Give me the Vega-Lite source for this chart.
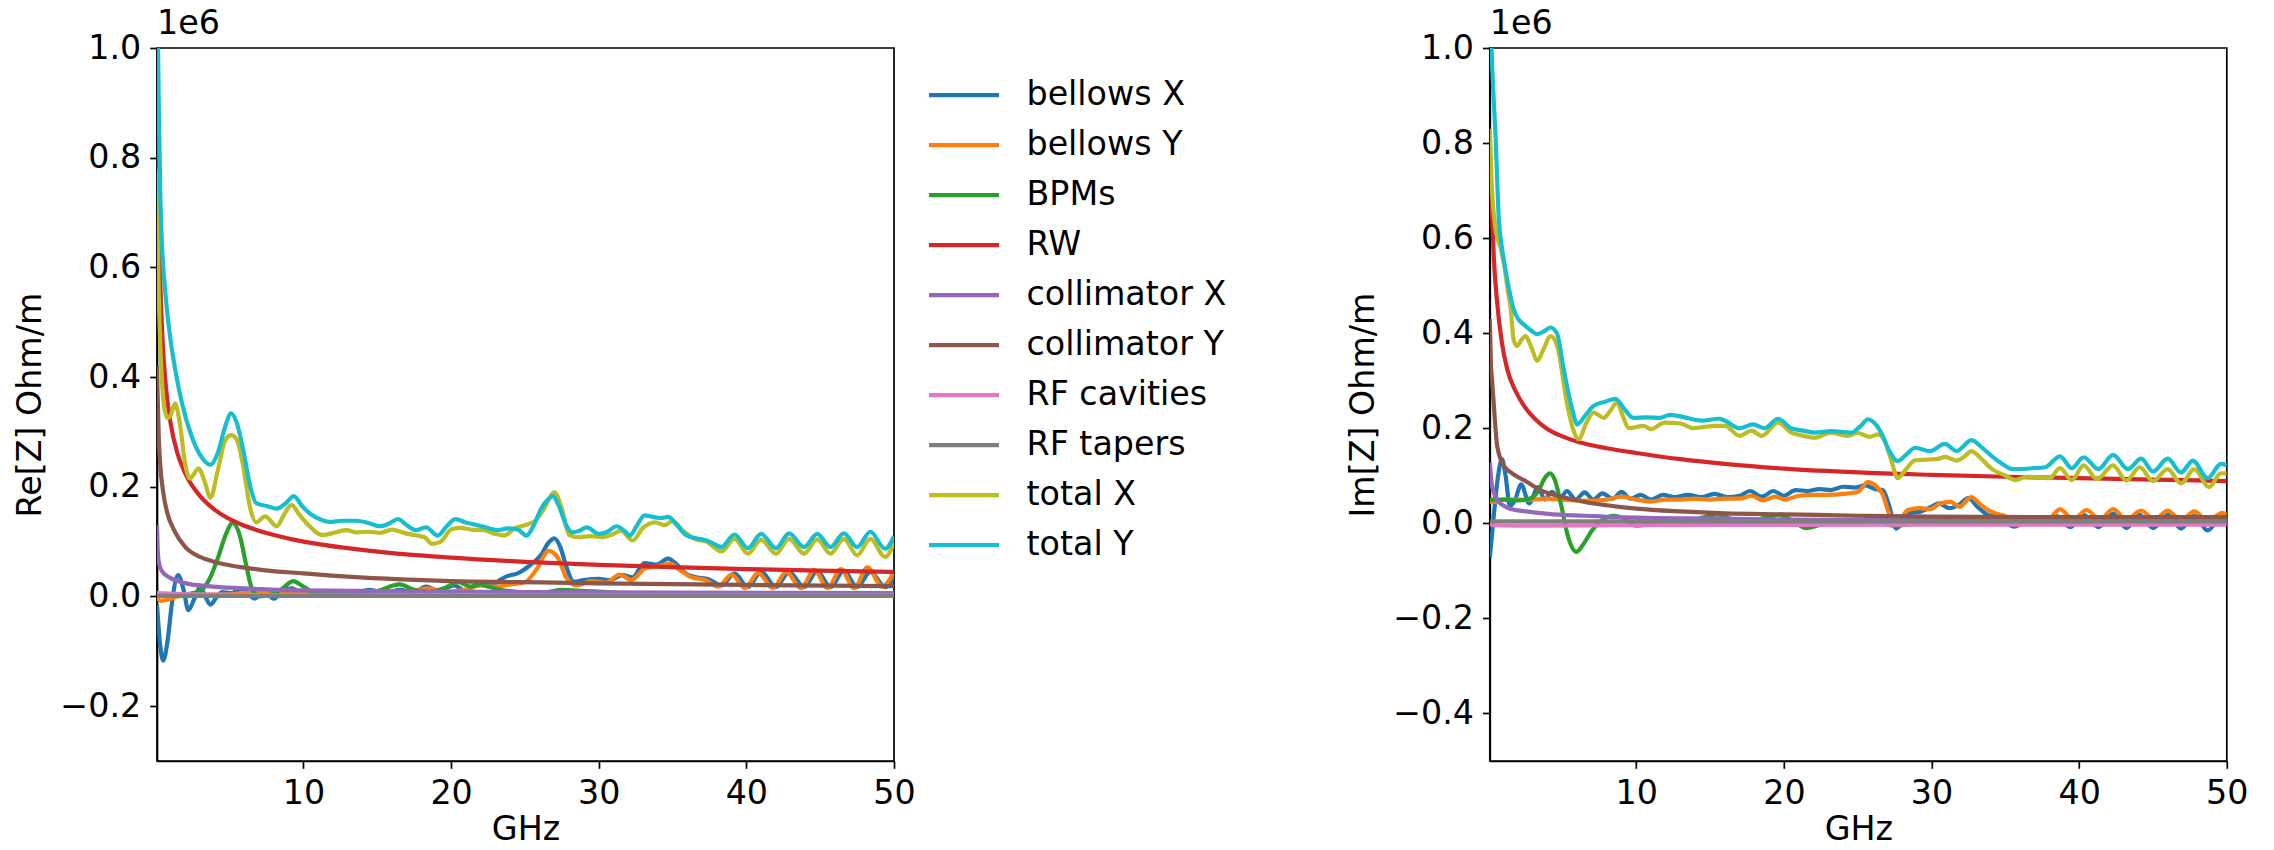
{
  "$schema": "https://vega.github.io/schema/vega-lite/v6.json",
  "background": "white",
  "padding": {"left": 12, "top": 5, "right": 5, "bottom": 5},
  "config": {
    "font": "DejaVu Sans",
    "view": {"stroke": "black", "strokeWidth": 1.7},
    "axis": {"grid": false, "domainColor": "black", "domainWidth": 1.7, "tickColor": "black", "tickWidth": 1.7, "tickSize": 7.3,
      "labelFontSize": 33.3, "labelColor": "black", "labelFont": "DejaVu Sans", "labelPadding": 9, "labelFlush": false, "labelOverlap": false,
      "titleFontSize": 33.3, "titleFontWeight": "normal", "titleColor": "black", "titleFont": "DejaVu Sans"},
    "axisX": {"titlePadding": 4},
    "axisY": {"titlePadding": 12.6},
    "title": {"fontSize": 33.3, "fontWeight": "normal", "font": "DejaVu Sans", "color": "black", "anchor": "start", "frame": "group", "baseline": "alphabetic", "offset": -10}
  },
  "data": {"values": [
    {"p":"Re","s":"bellows X","f":0.08,"z":-15000},{"p":"Re","s":"bellows X","f":0.3,"z":-90000},{"p":"Re","s":"bellows X","f":0.5,"z":-117000},{"p":"Re","s":"bellows X","f":0.8,"z":-80000},{"p":"Re","s":"bellows X","f":1.1,"z":-10000},{"p":"Re","s":"bellows X","f":1.5,"z":39000},{"p":"Re","s":"bellows X","f":1.9,"z":10000},{"p":"Re","s":"bellows X","f":2.2,"z":-25000},{"p":"Re","s":"bellows X","f":2.6,"z":-5000},{"p":"Re","s":"bellows X","f":3.0,"z":17000},{"p":"Re","s":"bellows X","f":3.35,"z":0},{"p":"Re","s":"bellows X","f":3.7,"z":-15000},{"p":"Re","s":"bellows X","f":4.1,"z":-2000},{"p":"Re","s":"bellows X","f":4.5,"z":8000},{"p":"Re","s":"bellows X","f":5.1,"z":6000},{"p":"Re","s":"bellows X","f":5.8,"z":14000},{"p":"Re","s":"bellows X","f":6.7,"z":-4000},{"p":"Re","s":"bellows X","f":7.3,"z":10000},{"p":"Re","s":"bellows X","f":8.0,"z":-4000},{"p":"Re","s":"bellows X","f":8.6,"z":10000},{"p":"Re","s":"bellows X","f":9.2,"z":15000},{"p":"Re","s":"bellows X","f":9.8,"z":8000},{"p":"Re","s":"bellows X","f":10.5,"z":10000},{"p":"Re","s":"bellows X","f":11.5,"z":6000},{"p":"Re","s":"bellows X","f":12.5,"z":10000},{"p":"Re","s":"bellows X","f":13.5,"z":7000},{"p":"Re","s":"bellows X","f":14.5,"z":12000},{"p":"Re","s":"bellows X","f":15.5,"z":6000},{"p":"Re","s":"bellows X","f":16.5,"z":12000},{"p":"Re","s":"bellows X","f":17.5,"z":8000},{"p":"Re","s":"bellows X","f":18.3,"z":18000},{"p":"Re","s":"bellows X","f":19.2,"z":10000},{"p":"Re","s":"bellows X","f":20.2,"z":20000},{"p":"Re","s":"bellows X","f":21,"z":10000},{"p":"Re","s":"bellows X","f":21.8,"z":22000},{"p":"Re","s":"bellows X","f":22.6,"z":18000},{"p":"Re","s":"bellows X","f":23.3,"z":30000},{"p":"Re","s":"bellows X","f":23.8,"z":37000},{"p":"Re","s":"bellows X","f":24.5,"z":42000},{"p":"Re","s":"bellows X","f":25.3,"z":56000},{"p":"Re","s":"bellows X","f":26.1,"z":76000},{"p":"Re","s":"bellows X","f":26.6,"z":98000},{"p":"Re","s":"bellows X","f":27.0,"z":106000},{"p":"Re","s":"bellows X","f":27.4,"z":90000},{"p":"Re","s":"bellows X","f":27.8,"z":55000},{"p":"Re","s":"bellows X","f":28.3,"z":27000},{"p":"Re","s":"bellows X","f":29,"z":30000},{"p":"Re","s":"bellows X","f":30,"z":32000},{"p":"Re","s":"bellows X","f":30.8,"z":30000},{"p":"Re","s":"bellows X","f":31.6,"z":39000},{"p":"Re","s":"bellows X","f":32.3,"z":35000},{"p":"Re","s":"bellows X","f":33.1,"z":61000},{"p":"Re","s":"bellows X","f":33.9,"z":58000},{"p":"Re","s":"bellows X","f":34.7,"z":69000},{"p":"Re","s":"bellows X","f":35.3,"z":58000},{"p":"Re","s":"bellows X","f":35.9,"z":42000},{"p":"Re","s":"bellows X","f":36.6,"z":35000},{"p":"Re","s":"bellows X","f":37.4,"z":32000},{"p":"Re","s":"bellows X","f":38.3,"z":20000},{"p":"Re","s":"bellows X","f":39.2,"z":42000},{"p":"Re","s":"bellows X","f":40.1,"z":17000},{"p":"Re","s":"bellows X","f":41.0,"z":45000},{"p":"Re","s":"bellows X","f":42.0,"z":17000},{"p":"Re","s":"bellows X","f":42.9,"z":45000},{"p":"Re","s":"bellows X","f":43.9,"z":17000},{"p":"Re","s":"bellows X","f":44.8,"z":46000},{"p":"Re","s":"bellows X","f":45.7,"z":17000},{"p":"Re","s":"bellows X","f":46.6,"z":47000},{"p":"Re","s":"bellows X","f":47.5,"z":17000},{"p":"Re","s":"bellows X","f":48.4,"z":45000},{"p":"Re","s":"bellows X","f":49.4,"z":17000},{"p":"Re","s":"bellows X","f":50,"z":35000},
    {"p":"Re","s":"bellows Y","f":0.08,"z":0},{"p":"Re","s":"bellows Y","f":0.3,"z":-8000},{"p":"Re","s":"bellows Y","f":0.8,"z":-6000},{"p":"Re","s":"bellows Y","f":1.5,"z":0},{"p":"Re","s":"bellows Y","f":3,"z":3000},{"p":"Re","s":"bellows Y","f":5,"z":4000},{"p":"Re","s":"bellows Y","f":7,"z":8000},{"p":"Re","s":"bellows Y","f":9,"z":6000},{"p":"Re","s":"bellows Y","f":12,"z":8000},{"p":"Re","s":"bellows Y","f":15,"z":9000},{"p":"Re","s":"bellows Y","f":17,"z":8000},{"p":"Re","s":"bellows Y","f":18.5,"z":15000},{"p":"Re","s":"bellows Y","f":19.5,"z":8000},{"p":"Re","s":"bellows Y","f":21,"z":12000},{"p":"Re","s":"bellows Y","f":22,"z":20000},{"p":"Re","s":"bellows Y","f":23,"z":18000},{"p":"Re","s":"bellows Y","f":24,"z":22000},{"p":"Re","s":"bellows Y","f":25,"z":26000},{"p":"Re","s":"bellows Y","f":25.8,"z":50000},{"p":"Re","s":"bellows Y","f":26.6,"z":83000},{"p":"Re","s":"bellows Y","f":27.2,"z":72000},{"p":"Re","s":"bellows Y","f":27.8,"z":35000},{"p":"Re","s":"bellows Y","f":28.5,"z":20000},{"p":"Re","s":"bellows Y","f":29.5,"z":28000},{"p":"Re","s":"bellows Y","f":30.5,"z":25000},{"p":"Re","s":"bellows Y","f":31.4,"z":40000},{"p":"Re","s":"bellows Y","f":32.2,"z":30000},{"p":"Re","s":"bellows Y","f":33.2,"z":52000},{"p":"Re","s":"bellows Y","f":34,"z":55000},{"p":"Re","s":"bellows Y","f":34.8,"z":60000},{"p":"Re","s":"bellows Y","f":35.5,"z":48000},{"p":"Re","s":"bellows Y","f":36.3,"z":35000},{"p":"Re","s":"bellows Y","f":37.2,"z":30000},{"p":"Re","s":"bellows Y","f":38.1,"z":18000},{"p":"Re","s":"bellows Y","f":39.0,"z":40000},{"p":"Re","s":"bellows Y","f":39.9,"z":15000},{"p":"Re","s":"bellows Y","f":40.8,"z":43000},{"p":"Re","s":"bellows Y","f":41.8,"z":15000},{"p":"Re","s":"bellows Y","f":42.7,"z":45000},{"p":"Re","s":"bellows Y","f":43.7,"z":15000},{"p":"Re","s":"bellows Y","f":44.6,"z":48000},{"p":"Re","s":"bellows Y","f":45.5,"z":15000},{"p":"Re","s":"bellows Y","f":46.4,"z":50000},{"p":"Re","s":"bellows Y","f":47.3,"z":15000},{"p":"Re","s":"bellows Y","f":48.2,"z":53000},{"p":"Re","s":"bellows Y","f":49.2,"z":18000},{"p":"Re","s":"bellows Y","f":50,"z":45000},
    {"p":"Re","s":"BPMs","f":0.08,"z":2000},{"p":"Re","s":"BPMs","f":1,"z":3000},{"p":"Re","s":"BPMs","f":2,"z":4000},{"p":"Re","s":"BPMs","f":3,"z":10000},{"p":"Re","s":"BPMs","f":3.6,"z":30000},{"p":"Re","s":"BPMs","f":4.2,"z":70000},{"p":"Re","s":"BPMs","f":4.7,"z":110000},{"p":"Re","s":"BPMs","f":5.2,"z":134000},{"p":"Re","s":"BPMs","f":5.7,"z":110000},{"p":"Re","s":"BPMs","f":6.1,"z":60000},{"p":"Re","s":"BPMs","f":6.5,"z":15000},{"p":"Re","s":"BPMs","f":7,"z":0},{"p":"Re","s":"BPMs","f":7.8,"z":3000},{"p":"Re","s":"BPMs","f":8.6,"z":15000},{"p":"Re","s":"BPMs","f":9.3,"z":28000},{"p":"Re","s":"BPMs","f":10,"z":18000},{"p":"Re","s":"BPMs","f":10.8,"z":6000},{"p":"Re","s":"BPMs","f":12,"z":4000},{"p":"Re","s":"BPMs","f":13.5,"z":6000},{"p":"Re","s":"BPMs","f":15,"z":10000},{"p":"Re","s":"BPMs","f":16.5,"z":22000},{"p":"Re","s":"BPMs","f":17.5,"z":12000},{"p":"Re","s":"BPMs","f":18.5,"z":8000},{"p":"Re","s":"BPMs","f":19.5,"z":15000},{"p":"Re","s":"BPMs","f":20.5,"z":26000},{"p":"Re","s":"BPMs","f":21.3,"z":18000},{"p":"Re","s":"BPMs","f":22,"z":22000},{"p":"Re","s":"BPMs","f":23,"z":14000},{"p":"Re","s":"BPMs","f":24.5,"z":8000},{"p":"Re","s":"BPMs","f":26,"z":6000},{"p":"Re","s":"BPMs","f":27.5,"z":12000},{"p":"Re","s":"BPMs","f":29,"z":10000},{"p":"Re","s":"BPMs","f":30.5,"z":8000},{"p":"Re","s":"BPMs","f":33,"z":4000},{"p":"Re","s":"BPMs","f":36,"z":3000},{"p":"Re","s":"BPMs","f":40,"z":2000},{"p":"Re","s":"BPMs","f":50,"z":2000},
    {"p":"Re","s":"RW","f":0.08,"z":1120000},{"p":"Re","s":"RW","f":0.12,"z":910000},{"p":"Re","s":"RW","f":0.2,"z":707000},{"p":"Re","s":"RW","f":0.3,"z":577000},{"p":"Re","s":"RW","f":0.45,"z":471000},{"p":"Re","s":"RW","f":0.7,"z":378000},{"p":"Re","s":"RW","f":1,"z":316000},{"p":"Re","s":"RW","f":1.5,"z":258000},{"p":"Re","s":"RW","f":2,"z":224000},{"p":"Re","s":"RW","f":3,"z":183000},{"p":"Re","s":"RW","f":4,"z":158000},{"p":"Re","s":"RW","f":5,"z":141000},{"p":"Re","s":"RW","f":6,"z":129000},{"p":"Re","s":"RW","f":8,"z":112000},{"p":"Re","s":"RW","f":10,"z":100000},{"p":"Re","s":"RW","f":13,"z":88000},{"p":"Re","s":"RW","f":16,"z":79000},{"p":"Re","s":"RW","f":20,"z":70700},{"p":"Re","s":"RW","f":25,"z":63200},{"p":"Re","s":"RW","f":30,"z":57700},{"p":"Re","s":"RW","f":35,"z":53400},{"p":"Re","s":"RW","f":40,"z":50000},{"p":"Re","s":"RW","f":45,"z":47100},{"p":"Re","s":"RW","f":50,"z":44700},
    {"p":"Re","s":"collimator X","f":0.08,"z":130000},{"p":"Re","s":"collimator X","f":0.12,"z":90000},{"p":"Re","s":"collimator X","f":0.2,"z":63000},{"p":"Re","s":"collimator X","f":0.4,"z":47000},{"p":"Re","s":"collimator X","f":0.84,"z":36000},{"p":"Re","s":"collimator X","f":1.5,"z":28000},{"p":"Re","s":"collimator X","f":2.2,"z":23000},{"p":"Re","s":"collimator X","f":3.5,"z":19000},{"p":"Re","s":"collimator X","f":5.3,"z":15500},{"p":"Re","s":"collimator X","f":7.5,"z":13000},{"p":"Re","s":"collimator X","f":10,"z":11000},{"p":"Re","s":"collimator X","f":16,"z":9500},{"p":"Re","s":"collimator X","f":25,"z":8000},{"p":"Re","s":"collimator X","f":35,"z":7000},{"p":"Re","s":"collimator X","f":50,"z":6000},
    {"p":"Re","s":"collimator Y","f":0.08,"z":420000},{"p":"Re","s":"collimator Y","f":0.12,"z":370000},{"p":"Re","s":"collimator Y","f":0.2,"z":290000},{"p":"Re","s":"collimator Y","f":0.3,"z":240000},{"p":"Re","s":"collimator Y","f":0.5,"z":190000},{"p":"Re","s":"collimator Y","f":0.8,"z":150000},{"p":"Re","s":"collimator Y","f":1.2,"z":123000},{"p":"Re","s":"collimator Y","f":2,"z":90000},{"p":"Re","s":"collimator Y","f":3,"z":72000},{"p":"Re","s":"collimator Y","f":4,"z":63000},{"p":"Re","s":"collimator Y","f":5,"z":57000},{"p":"Re","s":"collimator Y","f":7,"z":49000},{"p":"Re","s":"collimator Y","f":10,"z":42000},{"p":"Re","s":"collimator Y","f":13,"z":36000},{"p":"Re","s":"collimator Y","f":16.6,"z":31000},{"p":"Re","s":"collimator Y","f":20,"z":28000},{"p":"Re","s":"collimator Y","f":25,"z":26000},{"p":"Re","s":"collimator Y","f":30,"z":24000},{"p":"Re","s":"collimator Y","f":40,"z":21000},{"p":"Re","s":"collimator Y","f":50,"z":19000},
    {"p":"Re","s":"RF cavities","f":0.08,"z":6000},{"p":"Re","s":"RF cavities","f":1,"z":5000},{"p":"Re","s":"RF cavities","f":5,"z":3000},{"p":"Re","s":"RF cavities","f":10,"z":2000},{"p":"Re","s":"RF cavities","f":50,"z":2000},
    {"p":"Re","s":"RF tapers","f":0.08,"z":1000},{"p":"Re","s":"RF tapers","f":50,"z":1000},
    {"p":"Re","s":"total X","f":0.08,"z":780000},{"p":"Re","s":"total X","f":0.15,"z":620000},{"p":"Re","s":"total X","f":0.25,"z":500000},{"p":"Re","s":"total X","f":0.4,"z":400000},{"p":"Re","s":"total X","f":0.6,"z":340000},{"p":"Re","s":"total X","f":0.8,"z":325000},{"p":"Re","s":"total X","f":1.0,"z":330000},{"p":"Re","s":"total X","f":1.3,"z":352000},{"p":"Re","s":"total X","f":1.6,"z":320000},{"p":"Re","s":"total X","f":2.0,"z":240000},{"p":"Re","s":"total X","f":2.3,"z":215000},{"p":"Re","s":"total X","f":2.9,"z":233000},{"p":"Re","s":"total X","f":3.3,"z":210000},{"p":"Re","s":"total X","f":3.7,"z":180000},{"p":"Re","s":"total X","f":4.2,"z":230000},{"p":"Re","s":"total X","f":4.7,"z":285000},{"p":"Re","s":"total X","f":5.1,"z":294000},{"p":"Re","s":"total X","f":5.5,"z":285000},{"p":"Re","s":"total X","f":5.9,"z":240000},{"p":"Re","s":"total X","f":6.4,"z":160000},{"p":"Re","s":"total X","f":6.8,"z":135000},{"p":"Re","s":"total X","f":7.4,"z":146000},{"p":"Re","s":"total X","f":8.2,"z":128000},{"p":"Re","s":"total X","f":8.7,"z":150000},{"p":"Re","s":"total X","f":9.2,"z":167000},{"p":"Re","s":"total X","f":9.7,"z":150000},{"p":"Re","s":"total X","f":10.2,"z":134000},{"p":"Re","s":"total X","f":11.3,"z":112000},{"p":"Re","s":"total X","f":12.2,"z":117000},{"p":"Re","s":"total X","f":12.9,"z":121000},{"p":"Re","s":"total X","f":13.6,"z":117000},{"p":"Re","s":"total X","f":14.4,"z":118000},{"p":"Re","s":"total X","f":15.2,"z":116000},{"p":"Re","s":"total X","f":16,"z":122000},{"p":"Re","s":"total X","f":16.8,"z":116000},{"p":"Re","s":"total X","f":17.5,"z":112000},{"p":"Re","s":"total X","f":18.2,"z":108000},{"p":"Re","s":"total X","f":18.7,"z":96000},{"p":"Re","s":"total X","f":19.3,"z":100000},{"p":"Re","s":"total X","f":20.0,"z":122000},{"p":"Re","s":"total X","f":20.6,"z":125000},{"p":"Re","s":"total X","f":21.4,"z":122000},{"p":"Re","s":"total X","f":22.2,"z":121000},{"p":"Re","s":"total X","f":23.0,"z":114000},{"p":"Re","s":"total X","f":23.6,"z":111000},{"p":"Re","s":"total X","f":24.3,"z":124000},{"p":"Re","s":"total X","f":25.0,"z":130000},{"p":"Re","s":"total X","f":25.7,"z":138000},{"p":"Re","s":"total X","f":26.3,"z":160000},{"p":"Re","s":"total X","f":27.0,"z":190000},{"p":"Re","s":"total X","f":27.5,"z":160000},{"p":"Re","s":"total X","f":28.0,"z":112000},{"p":"Re","s":"total X","f":28.6,"z":108000},{"p":"Re","s":"total X","f":29.5,"z":110000},{"p":"Re","s":"total X","f":30.3,"z":108000},{"p":"Re","s":"total X","f":31.0,"z":114000},{"p":"Re","s":"total X","f":31.5,"z":120000},{"p":"Re","s":"total X","f":32.3,"z":102000},{"p":"Re","s":"total X","f":33.0,"z":125000},{"p":"Re","s":"total X","f":33.8,"z":135000},{"p":"Re","s":"total X","f":34.5,"z":130000},{"p":"Re","s":"total X","f":35.0,"z":138000},{"p":"Re","s":"total X","f":35.7,"z":120000},{"p":"Re","s":"total X","f":36.5,"z":105000},{"p":"Re","s":"total X","f":37.3,"z":100000},{"p":"Re","s":"total X","f":38.3,"z":82000},{"p":"Re","s":"total X","f":39.2,"z":105000},{"p":"Re","s":"total X","f":40.1,"z":78000},{"p":"Re","s":"total X","f":41.0,"z":103000},{"p":"Re","s":"total X","f":42.0,"z":78000},{"p":"Re","s":"total X","f":42.9,"z":105000},{"p":"Re","s":"total X","f":43.9,"z":78000},{"p":"Re","s":"total X","f":44.8,"z":104000},{"p":"Re","s":"total X","f":45.7,"z":78000},{"p":"Re","s":"total X","f":46.6,"z":105000},{"p":"Re","s":"total X","f":47.5,"z":75000},{"p":"Re","s":"total X","f":48.4,"z":105000},{"p":"Re","s":"total X","f":49.4,"z":72000},{"p":"Re","s":"total X","f":50,"z":98000},
    {"p":"Re","s":"total Y","f":0.08,"z":1300000},{"p":"Re","s":"total Y","f":0.15,"z":1000000},{"p":"Re","s":"total Y","f":0.22,"z":860000},{"p":"Re","s":"total Y","f":0.3,"z":740000},{"p":"Re","s":"total Y","f":0.4,"z":650000},{"p":"Re","s":"total Y","f":0.6,"z":568000},{"p":"Re","s":"total Y","f":0.95,"z":477000},{"p":"Re","s":"total Y","f":1.3,"z":416000},{"p":"Re","s":"total Y","f":1.75,"z":355000},{"p":"Re","s":"total Y","f":2.4,"z":294000},{"p":"Re","s":"total Y","f":3.0,"z":258000},{"p":"Re","s":"total Y","f":3.7,"z":240000},{"p":"Re","s":"total Y","f":4.2,"z":262000},{"p":"Re","s":"total Y","f":4.7,"z":310000},{"p":"Re","s":"total Y","f":5.1,"z":334000},{"p":"Re","s":"total Y","f":5.5,"z":315000},{"p":"Re","s":"total Y","f":5.9,"z":270000},{"p":"Re","s":"total Y","f":6.4,"z":200000},{"p":"Re","s":"total Y","f":6.8,"z":170000},{"p":"Re","s":"total Y","f":7.5,"z":165000},{"p":"Re","s":"total Y","f":8.2,"z":160000},{"p":"Re","s":"total Y","f":8.8,"z":170000},{"p":"Re","s":"total Y","f":9.35,"z":183000},{"p":"Re","s":"total Y","f":9.9,"z":165000},{"p":"Re","s":"total Y","f":10.5,"z":150000},{"p":"Re","s":"total Y","f":11.2,"z":140000},{"p":"Re","s":"total Y","f":11.8,"z":136000},{"p":"Re","s":"total Y","f":12.6,"z":138000},{"p":"Re","s":"total Y","f":13.6,"z":138000},{"p":"Re","s":"total Y","f":14.4,"z":134000},{"p":"Re","s":"total Y","f":15.2,"z":128000},{"p":"Re","s":"total Y","f":15.8,"z":133000},{"p":"Re","s":"total Y","f":16.4,"z":141000},{"p":"Re","s":"total Y","f":17.0,"z":130000},{"p":"Re","s":"total Y","f":17.6,"z":121000},{"p":"Re","s":"total Y","f":18.3,"z":126000},{"p":"Re","s":"total Y","f":19.1,"z":111000},{"p":"Re","s":"total Y","f":19.7,"z":128000},{"p":"Re","s":"total Y","f":20.3,"z":141000},{"p":"Re","s":"total Y","f":21.0,"z":135000},{"p":"Re","s":"total Y","f":21.8,"z":130000},{"p":"Re","s":"total Y","f":22.6,"z":124000},{"p":"Re","s":"total Y","f":23.2,"z":121000},{"p":"Re","s":"total Y","f":23.8,"z":124000},{"p":"Re","s":"total Y","f":24.5,"z":122000},{"p":"Re","s":"total Y","f":25.1,"z":111000},{"p":"Re","s":"total Y","f":25.6,"z":130000},{"p":"Re","s":"total Y","f":26.1,"z":160000},{"p":"Re","s":"total Y","f":26.6,"z":178000},{"p":"Re","s":"total Y","f":26.9,"z":183000},{"p":"Re","s":"total Y","f":27.3,"z":165000},{"p":"Re","s":"total Y","f":27.8,"z":130000},{"p":"Re","s":"total Y","f":28.2,"z":117000},{"p":"Re","s":"total Y","f":28.7,"z":120000},{"p":"Re","s":"total Y","f":29.2,"z":126000},{"p":"Re","s":"total Y","f":30.0,"z":114000},{"p":"Re","s":"total Y","f":30.6,"z":118000},{"p":"Re","s":"total Y","f":31.2,"z":128000},{"p":"Re","s":"total Y","f":31.8,"z":118000},{"p":"Re","s":"total Y","f":32.1,"z":111000},{"p":"Re","s":"total Y","f":32.6,"z":130000},{"p":"Re","s":"total Y","f":33.1,"z":148000},{"p":"Re","s":"total Y","f":33.7,"z":145000},{"p":"Re","s":"total Y","f":34.2,"z":143000},{"p":"Re","s":"total Y","f":34.7,"z":145000},{"p":"Re","s":"total Y","f":35.3,"z":130000},{"p":"Re","s":"total Y","f":35.9,"z":112000},{"p":"Re","s":"total Y","f":36.6,"z":106000},{"p":"Re","s":"total Y","f":37.3,"z":102000},{"p":"Re","s":"total Y","f":37.8,"z":96000},{"p":"Re","s":"total Y","f":38.3,"z":90000},{"p":"Re","s":"total Y","f":39.2,"z":113000},{"p":"Re","s":"total Y","f":40.1,"z":88000},{"p":"Re","s":"total Y","f":41.0,"z":114000},{"p":"Re","s":"total Y","f":42.0,"z":88000},{"p":"Re","s":"total Y","f":42.9,"z":115000},{"p":"Re","s":"total Y","f":43.9,"z":90000},{"p":"Re","s":"total Y","f":44.8,"z":114000},{"p":"Re","s":"total Y","f":45.7,"z":90000},{"p":"Re","s":"total Y","f":46.6,"z":115000},{"p":"Re","s":"total Y","f":47.5,"z":90000},{"p":"Re","s":"total Y","f":48.4,"z":118000},{"p":"Re","s":"total Y","f":49.4,"z":87000},{"p":"Re","s":"total Y","f":50,"z":110000},
    {"p":"Im","s":"bellows X","f":0.08,"z":-72000},{"p":"Im","s":"bellows X","f":0.3,"z":0},{"p":"Im","s":"bellows X","f":0.6,"z":90000},{"p":"Im","s":"bellows X","f":0.9,"z":135000},{"p":"Im","s":"bellows X","f":1.15,"z":100000},{"p":"Im","s":"bellows X","f":1.44,"z":36000},{"p":"Im","s":"bellows X","f":1.8,"z":50000},{"p":"Im","s":"bellows X","f":2.2,"z":82000},{"p":"Im","s":"bellows X","f":2.75,"z":42000},{"p":"Im","s":"bellows X","f":3.35,"z":76000},{"p":"Im","s":"bellows X","f":3.8,"z":50000},{"p":"Im","s":"bellows X","f":4.3,"z":66000},{"p":"Im","s":"bellows X","f":4.8,"z":50000},{"p":"Im","s":"bellows X","f":5.3,"z":68000},{"p":"Im","s":"bellows X","f":5.9,"z":50000},{"p":"Im","s":"bellows X","f":6.5,"z":65000},{"p":"Im","s":"bellows X","f":7.1,"z":50000},{"p":"Im","s":"bellows X","f":7.7,"z":63000},{"p":"Im","s":"bellows X","f":8.4,"z":52000},{"p":"Im","s":"bellows X","f":9.0,"z":66000},{"p":"Im","s":"bellows X","f":9.6,"z":52000},{"p":"Im","s":"bellows X","f":10.3,"z":60000},{"p":"Im","s":"bellows X","f":11.0,"z":50000},{"p":"Im","s":"bellows X","f":11.8,"z":60000},{"p":"Im","s":"bellows X","f":12.6,"z":55000},{"p":"Im","s":"bellows X","f":13.5,"z":60000},{"p":"Im","s":"bellows X","f":14.4,"z":55000},{"p":"Im","s":"bellows X","f":15.3,"z":62000},{"p":"Im","s":"bellows X","f":16.2,"z":55000},{"p":"Im","s":"bellows X","f":17.0,"z":58000},{"p":"Im","s":"bellows X","f":17.7,"z":68000},{"p":"Im","s":"bellows X","f":18.5,"z":56000},{"p":"Im","s":"bellows X","f":19.3,"z":68000},{"p":"Im","s":"bellows X","f":20.0,"z":58000},{"p":"Im","s":"bellows X","f":20.8,"z":70000},{"p":"Im","s":"bellows X","f":21.6,"z":68000},{"p":"Im","s":"bellows X","f":22.4,"z":72000},{"p":"Im","s":"bellows X","f":23.2,"z":70000},{"p":"Im","s":"bellows X","f":24.0,"z":77000},{"p":"Im","s":"bellows X","f":24.8,"z":75000},{"p":"Im","s":"bellows X","f":25.5,"z":80000},{"p":"Im","s":"bellows X","f":26.2,"z":72000},{"p":"Im","s":"bellows X","f":26.7,"z":70000},{"p":"Im","s":"bellows X","f":27.1,"z":40000},{"p":"Im","s":"bellows X","f":27.6,"z":-11000},{"p":"Im","s":"bellows X","f":28.1,"z":5000},{"p":"Im","s":"bellows X","f":28.6,"z":22000},{"p":"Im","s":"bellows X","f":29.3,"z":25000},{"p":"Im","s":"bellows X","f":30.0,"z":35000},{"p":"Im","s":"bellows X","f":30.5,"z":42000},{"p":"Im","s":"bellows X","f":31.2,"z":32000},{"p":"Im","s":"bellows X","f":31.8,"z":38000},{"p":"Im","s":"bellows X","f":32.5,"z":53000},{"p":"Im","s":"bellows X","f":33.1,"z":35000},{"p":"Im","s":"bellows X","f":33.8,"z":18000},{"p":"Im","s":"bellows X","f":34.6,"z":12000},{"p":"Im","s":"bellows X","f":35.1,"z":0},{"p":"Im","s":"bellows X","f":35.6,"z":-7000},{"p":"Im","s":"bellows X","f":36.2,"z":0},{"p":"Im","s":"bellows X","f":37.0,"z":3000},{"p":"Im","s":"bellows X","f":37.7,"z":5000},{"p":"Im","s":"bellows X","f":38.5,"z":15000},{"p":"Im","s":"bellows X","f":39.4,"z":-8000},{"p":"Im","s":"bellows X","f":40.3,"z":18000},{"p":"Im","s":"bellows X","f":41.3,"z":-8000},{"p":"Im","s":"bellows X","f":42.3,"z":20000},{"p":"Im","s":"bellows X","f":43.2,"z":-10000},{"p":"Im","s":"bellows X","f":44.1,"z":18000},{"p":"Im","s":"bellows X","f":45.0,"z":-10000},{"p":"Im","s":"bellows X","f":46.0,"z":18000},{"p":"Im","s":"bellows X","f":46.9,"z":-11000},{"p":"Im","s":"bellows X","f":47.8,"z":16000},{"p":"Im","s":"bellows X","f":48.7,"z":-15000},{"p":"Im","s":"bellows X","f":49.6,"z":12000},{"p":"Im","s":"bellows X","f":50,"z":10000},
    {"p":"Im","s":"bellows Y","f":0.08,"z":45000},{"p":"Im","s":"bellows Y","f":0.5,"z":45000},{"p":"Im","s":"bellows Y","f":1.0,"z":50000},{"p":"Im","s":"bellows Y","f":2,"z":50000},{"p":"Im","s":"bellows Y","f":3,"z":50000},{"p":"Im","s":"bellows Y","f":4,"z":52000},{"p":"Im","s":"bellows Y","f":5,"z":50000},{"p":"Im","s":"bellows Y","f":6,"z":48000},{"p":"Im","s":"bellows Y","f":7,"z":48000},{"p":"Im","s":"bellows Y","f":8,"z":50000},{"p":"Im","s":"bellows Y","f":9,"z":56000},{"p":"Im","s":"bellows Y","f":10,"z":50000},{"p":"Im","s":"bellows Y","f":11,"z":46000},{"p":"Im","s":"bellows Y","f":12,"z":50000},{"p":"Im","s":"bellows Y","f":13,"z":50000},{"p":"Im","s":"bellows Y","f":14,"z":52000},{"p":"Im","s":"bellows Y","f":15,"z":50000},{"p":"Im","s":"bellows Y","f":16,"z":52000},{"p":"Im","s":"bellows Y","f":17,"z":52000},{"p":"Im","s":"bellows Y","f":17.8,"z":58000},{"p":"Im","s":"bellows Y","f":18.6,"z":48000},{"p":"Im","s":"bellows Y","f":19.4,"z":56000},{"p":"Im","s":"bellows Y","f":20.1,"z":50000},{"p":"Im","s":"bellows Y","f":21,"z":58000},{"p":"Im","s":"bellows Y","f":22,"z":60000},{"p":"Im","s":"bellows Y","f":23,"z":60000},{"p":"Im","s":"bellows Y","f":24,"z":62000},{"p":"Im","s":"bellows Y","f":25,"z":66000},{"p":"Im","s":"bellows Y","f":25.7,"z":87000},{"p":"Im","s":"bellows Y","f":26.2,"z":80000},{"p":"Im","s":"bellows Y","f":26.7,"z":60000},{"p":"Im","s":"bellows Y","f":27.2,"z":15000},{"p":"Im","s":"bellows Y","f":27.7,"z":3000},{"p":"Im","s":"bellows Y","f":28.4,"z":28000},{"p":"Im","s":"bellows Y","f":29.2,"z":32000},{"p":"Im","s":"bellows Y","f":29.9,"z":30000},{"p":"Im","s":"bellows Y","f":30.6,"z":42000},{"p":"Im","s":"bellows Y","f":31.3,"z":45000},{"p":"Im","s":"bellows Y","f":31.9,"z":35000},{"p":"Im","s":"bellows Y","f":32.7,"z":55000},{"p":"Im","s":"bellows Y","f":33.3,"z":40000},{"p":"Im","s":"bellows Y","f":34.0,"z":25000},{"p":"Im","s":"bellows Y","f":35.0,"z":15000},{"p":"Im","s":"bellows Y","f":36.0,"z":7000},{"p":"Im","s":"bellows Y","f":37.0,"z":5000},{"p":"Im","s":"bellows Y","f":38.0,"z":10000},{"p":"Im","s":"bellows Y","f":38.7,"z":30000},{"p":"Im","s":"bellows Y","f":39.6,"z":8000},{"p":"Im","s":"bellows Y","f":40.5,"z":28000},{"p":"Im","s":"bellows Y","f":41.4,"z":8000},{"p":"Im","s":"bellows Y","f":42.3,"z":30000},{"p":"Im","s":"bellows Y","f":43.2,"z":8000},{"p":"Im","s":"bellows Y","f":44.2,"z":27000},{"p":"Im","s":"bellows Y","f":45.1,"z":8000},{"p":"Im","s":"bellows Y","f":46.0,"z":27000},{"p":"Im","s":"bellows Y","f":46.9,"z":6000},{"p":"Im","s":"bellows Y","f":47.8,"z":25000},{"p":"Im","s":"bellows Y","f":48.7,"z":5000},{"p":"Im","s":"bellows Y","f":49.7,"z":22000},{"p":"Im","s":"bellows Y","f":50,"z":18000},
    {"p":"Im","s":"BPMs","f":0.08,"z":50000},{"p":"Im","s":"BPMs","f":1,"z":50000},{"p":"Im","s":"BPMs","f":2,"z":48000},{"p":"Im","s":"BPMs","f":2.8,"z":52000},{"p":"Im","s":"BPMs","f":3.4,"z":70000},{"p":"Im","s":"BPMs","f":3.8,"z":95000},{"p":"Im","s":"BPMs","f":4.15,"z":105000},{"p":"Im","s":"BPMs","f":4.5,"z":90000},{"p":"Im","s":"BPMs","f":4.9,"z":40000},{"p":"Im","s":"BPMs","f":5.4,"z":-30000},{"p":"Im","s":"BPMs","f":5.95,"z":-60000},{"p":"Im","s":"BPMs","f":6.5,"z":-40000},{"p":"Im","s":"BPMs","f":7.0,"z":-15000},{"p":"Im","s":"BPMs","f":7.6,"z":5000},{"p":"Im","s":"BPMs","f":8.5,"z":16000},{"p":"Im","s":"BPMs","f":9.3,"z":8000},{"p":"Im","s":"BPMs","f":10.0,"z":-5000},{"p":"Im","s":"BPMs","f":10.8,"z":-2000},{"p":"Im","s":"BPMs","f":12,"z":5000},{"p":"Im","s":"BPMs","f":13.5,"z":5000},{"p":"Im","s":"BPMs","f":14.5,"z":12000},{"p":"Im","s":"BPMs","f":15.5,"z":19000},{"p":"Im","s":"BPMs","f":16.5,"z":8000},{"p":"Im","s":"BPMs","f":17.2,"z":0},{"p":"Im","s":"BPMs","f":18.5,"z":10000},{"p":"Im","s":"BPMs","f":19.7,"z":18000},{"p":"Im","s":"BPMs","f":20.6,"z":5000},{"p":"Im","s":"BPMs","f":21.5,"z":-10000},{"p":"Im","s":"BPMs","f":22.5,"z":-3000},{"p":"Im","s":"BPMs","f":23.5,"z":3000},{"p":"Im","s":"BPMs","f":25,"z":2000},{"p":"Im","s":"BPMs","f":26.5,"z":0},{"p":"Im","s":"BPMs","f":27.5,"z":-5000},{"p":"Im","s":"BPMs","f":29,"z":0},{"p":"Im","s":"BPMs","f":31,"z":3000},{"p":"Im","s":"BPMs","f":33,"z":1000},{"p":"Im","s":"BPMs","f":36,"z":0},{"p":"Im","s":"BPMs","f":40,"z":2000},{"p":"Im","s":"BPMs","f":45,"z":3000},{"p":"Im","s":"BPMs","f":50,"z":3000},
    {"p":"Im","s":"RW","f":0.08,"z":750000},{"p":"Im","s":"RW","f":0.24,"z":647000},{"p":"Im","s":"RW","f":0.35,"z":560000},{"p":"Im","s":"RW","f":0.58,"z":464000},{"p":"Im","s":"RW","f":0.9,"z":380000},{"p":"Im","s":"RW","f":1.26,"z":324000},{"p":"Im","s":"RW","f":1.8,"z":280000},{"p":"Im","s":"RW","f":2.4,"z":247000},{"p":"Im","s":"RW","f":3.2,"z":218000},{"p":"Im","s":"RW","f":4,"z":198000},{"p":"Im","s":"RW","f":5,"z":183000},{"p":"Im","s":"RW","f":6.2,"z":170000},{"p":"Im","s":"RW","f":8,"z":158000},{"p":"Im","s":"RW","f":10,"z":148000},{"p":"Im","s":"RW","f":13,"z":135000},{"p":"Im","s":"RW","f":16,"z":125000},{"p":"Im","s":"RW","f":20,"z":115000},{"p":"Im","s":"RW","f":25,"z":107000},{"p":"Im","s":"RW","f":30,"z":102000},{"p":"Im","s":"RW","f":35,"z":98000},{"p":"Im","s":"RW","f":40,"z":95000},{"p":"Im","s":"RW","f":45,"z":92000},{"p":"Im","s":"RW","f":50,"z":89000},
    {"p":"Im","s":"collimator X","f":0.08,"z":128000},{"p":"Im","s":"collimator X","f":0.2,"z":85000},{"p":"Im","s":"collimator X","f":0.35,"z":65000},{"p":"Im","s":"collimator X","f":0.6,"z":48000},{"p":"Im","s":"collimator X","f":1.03,"z":37000},{"p":"Im","s":"collimator X","f":1.5,"z":30000},{"p":"Im","s":"collimator X","f":2.5,"z":25000},{"p":"Im","s":"collimator X","f":4,"z":20000},{"p":"Im","s":"collimator X","f":6.5,"z":16000},{"p":"Im","s":"collimator X","f":10,"z":12000},{"p":"Im","s":"collimator X","f":15,"z":10000},{"p":"Im","s":"collimator X","f":20,"z":8000},{"p":"Im","s":"collimator X","f":30,"z":7000},{"p":"Im","s":"collimator X","f":40,"z":6000},{"p":"Im","s":"collimator X","f":50,"z":5000},
    {"p":"Im","s":"collimator Y","f":0.08,"z":430000},{"p":"Im","s":"collimator Y","f":0.15,"z":340000},{"p":"Im","s":"collimator Y","f":0.25,"z":295000},{"p":"Im","s":"collimator Y","f":0.35,"z":250000},{"p":"Im","s":"collimator Y","f":0.58,"z":163000},{"p":"Im","s":"collimator Y","f":1.03,"z":121000},{"p":"Im","s":"collimator Y","f":1.5,"z":107000},{"p":"Im","s":"collimator Y","f":2.55,"z":88000},{"p":"Im","s":"collimator Y","f":3.5,"z":70000},{"p":"Im","s":"collimator Y","f":4.55,"z":59000},{"p":"Im","s":"collimator Y","f":6.5,"z":45000},{"p":"Im","s":"collimator Y","f":8,"z":38000},{"p":"Im","s":"collimator Y","f":10,"z":31000},{"p":"Im","s":"collimator Y","f":13,"z":25000},{"p":"Im","s":"collimator Y","f":16,"z":21000},{"p":"Im","s":"collimator Y","f":20,"z":19000},{"p":"Im","s":"collimator Y","f":25,"z":16000},{"p":"Im","s":"collimator Y","f":30,"z":14000},{"p":"Im","s":"collimator Y","f":40,"z":13000},{"p":"Im","s":"collimator Y","f":50,"z":13000},
    {"p":"Im","s":"RF cavities","f":0.08,"z":0},{"p":"Im","s":"RF cavities","f":0.3,"z":-4000},{"p":"Im","s":"RF cavities","f":2,"z":-5000},{"p":"Im","s":"RF cavities","f":10,"z":-4000},{"p":"Im","s":"RF cavities","f":30,"z":-3000},{"p":"Im","s":"RF cavities","f":50,"z":-3000},
    {"p":"Im","s":"RF tapers","f":0.08,"z":4000},{"p":"Im","s":"RF tapers","f":50,"z":4000},
    {"p":"Im","s":"total X","f":0.08,"z":830000},{"p":"Im","s":"total X","f":0.2,"z":720000},{"p":"Im","s":"total X","f":0.47,"z":620000},{"p":"Im","s":"total X","f":0.8,"z":580000},{"p":"Im","s":"total X","f":1.03,"z":548000},{"p":"Im","s":"total X","f":1.3,"z":490000},{"p":"Im","s":"total X","f":1.5,"z":450000},{"p":"Im","s":"total X","f":1.7,"z":385000},{"p":"Im","s":"total X","f":1.93,"z":373000},{"p":"Im","s":"total X","f":2.2,"z":385000},{"p":"Im","s":"total X","f":2.5,"z":394000},{"p":"Im","s":"total X","f":2.9,"z":370000},{"p":"Im","s":"total X","f":3.3,"z":342000},{"p":"Im","s":"total X","f":3.7,"z":365000},{"p":"Im","s":"total X","f":4.2,"z":394000},{"p":"Im","s":"total X","f":4.65,"z":373000},{"p":"Im","s":"total X","f":5.3,"z":254000},{"p":"Im","s":"total X","f":5.7,"z":200000},{"p":"Im","s":"total X","f":6.1,"z":177000},{"p":"Im","s":"total X","f":6.6,"z":210000},{"p":"Im","s":"total X","f":7.1,"z":233000},{"p":"Im","s":"total X","f":7.8,"z":222000},{"p":"Im","s":"total X","f":8.2,"z":235000},{"p":"Im","s":"total X","f":8.7,"z":254000},{"p":"Im","s":"total X","f":9.1,"z":225000},{"p":"Im","s":"total X","f":9.5,"z":200000},{"p":"Im","s":"total X","f":10.5,"z":205000},{"p":"Im","s":"total X","f":11.0,"z":198000},{"p":"Im","s":"total X","f":11.9,"z":212000},{"p":"Im","s":"total X","f":13.0,"z":210000},{"p":"Im","s":"total X","f":13.9,"z":200000},{"p":"Im","s":"total X","f":14.6,"z":203000},{"p":"Im","s":"total X","f":15.3,"z":205000},{"p":"Im","s":"total X","f":16.0,"z":205000},{"p":"Im","s":"total X","f":17.0,"z":184000},{"p":"Im","s":"total X","f":17.8,"z":195000},{"p":"Im","s":"total X","f":18.5,"z":184000},{"p":"Im","s":"total X","f":19.6,"z":212000},{"p":"Im","s":"total X","f":20.5,"z":191000},{"p":"Im","s":"total X","f":21.2,"z":185000},{"p":"Im","s":"total X","f":22.1,"z":180000},{"p":"Im","s":"total X","f":23.2,"z":191000},{"p":"Im","s":"total X","f":24.3,"z":184000},{"p":"Im","s":"total X","f":25.0,"z":190000},{"p":"Im","s":"total X","f":25.8,"z":182000},{"p":"Im","s":"total X","f":26.4,"z":187000},{"p":"Im","s":"total X","f":26.8,"z":175000},{"p":"Im","s":"total X","f":27.3,"z":130000},{"p":"Im","s":"total X","f":27.7,"z":95000},{"p":"Im","s":"total X","f":28.3,"z":115000},{"p":"Im","s":"total X","f":28.9,"z":133000},{"p":"Im","s":"total X","f":29.7,"z":134000},{"p":"Im","s":"total X","f":30.5,"z":136000},{"p":"Im","s":"total X","f":30.9,"z":140000},{"p":"Im","s":"total X","f":31.7,"z":132000},{"p":"Im","s":"total X","f":32.2,"z":140000},{"p":"Im","s":"total X","f":32.7,"z":152000},{"p":"Im","s":"total X","f":33.3,"z":138000},{"p":"Im","s":"total X","f":34.1,"z":114000},{"p":"Im","s":"total X","f":34.9,"z":102000},{"p":"Im","s":"total X","f":35.7,"z":91000},{"p":"Im","s":"total X","f":36.4,"z":98000},{"p":"Im","s":"total X","f":37.3,"z":97000},{"p":"Im","s":"total X","f":38.0,"z":95000},{"p":"Im","s":"total X","f":38.7,"z":116000},{"p":"Im","s":"total X","f":39.5,"z":91000},{"p":"Im","s":"total X","f":40.3,"z":122000},{"p":"Im","s":"total X","f":41.2,"z":93000},{"p":"Im","s":"total X","f":42.3,"z":122000},{"p":"Im","s":"total X","f":43.2,"z":90000},{"p":"Im","s":"total X","f":44.1,"z":118000},{"p":"Im","s":"total X","f":45.0,"z":89000},{"p":"Im","s":"total X","f":46.0,"z":114000},{"p":"Im","s":"total X","f":46.9,"z":84000},{"p":"Im","s":"total X","f":47.8,"z":114000},{"p":"Im","s":"total X","f":48.8,"z":76000},{"p":"Im","s":"total X","f":49.6,"z":105000},{"p":"Im","s":"total X","f":50,"z":105000},
    {"p":"Im","s":"total Y","f":0.08,"z":1200000},{"p":"Im","s":"total Y","f":0.2,"z":1000000},{"p":"Im","s":"total Y","f":0.3,"z":920000},{"p":"Im","s":"total Y","f":0.47,"z":815000},{"p":"Im","s":"total Y","f":0.69,"z":640000},{"p":"Im","s":"total Y","f":0.9,"z":580000},{"p":"Im","s":"total Y","f":1.14,"z":534000},{"p":"Im","s":"total Y","f":1.4,"z":490000},{"p":"Im","s":"total Y","f":1.7,"z":450000},{"p":"Im","s":"total Y","f":2.0,"z":430000},{"p":"Im","s":"total Y","f":2.4,"z":418000},{"p":"Im","s":"total Y","f":2.9,"z":405000},{"p":"Im","s":"total Y","f":3.3,"z":398000},{"p":"Im","s":"total Y","f":3.8,"z":405000},{"p":"Im","s":"total Y","f":4.2,"z":412000},{"p":"Im","s":"total Y","f":4.65,"z":398000},{"p":"Im","s":"total Y","f":5.0,"z":340000},{"p":"Im","s":"total Y","f":5.3,"z":290000},{"p":"Im","s":"total Y","f":5.7,"z":235000},{"p":"Im","s":"total Y","f":6.0,"z":208000},{"p":"Im","s":"total Y","f":6.5,"z":225000},{"p":"Im","s":"total Y","f":7.1,"z":247000},{"p":"Im","s":"total Y","f":7.9,"z":256000},{"p":"Im","s":"total Y","f":8.6,"z":262000},{"p":"Im","s":"total Y","f":9.2,"z":240000},{"p":"Im","s":"total Y","f":9.8,"z":222000},{"p":"Im","s":"total Y","f":10.7,"z":223000},{"p":"Im","s":"total Y","f":11.6,"z":222000},{"p":"Im","s":"total Y","f":12.3,"z":228000},{"p":"Im","s":"total Y","f":13.0,"z":225000},{"p":"Im","s":"total Y","f":14.4,"z":216000},{"p":"Im","s":"total Y","f":15.6,"z":220000},{"p":"Im","s":"total Y","f":16.0,"z":216000},{"p":"Im","s":"total Y","f":17.0,"z":200000},{"p":"Im","s":"total Y","f":17.9,"z":208000},{"p":"Im","s":"total Y","f":18.7,"z":200000},{"p":"Im","s":"total Y","f":19.6,"z":220000},{"p":"Im","s":"total Y","f":20.5,"z":200000},{"p":"Im","s":"total Y","f":21.3,"z":195000},{"p":"Im","s":"total Y","f":22.1,"z":191000},{"p":"Im","s":"total Y","f":23.2,"z":194000},{"p":"Im","s":"total Y","f":24.6,"z":191000},{"p":"Im","s":"total Y","f":25.2,"z":205000},{"p":"Im","s":"total Y","f":25.7,"z":219000},{"p":"Im","s":"total Y","f":26.1,"z":212000},{"p":"Im","s":"total Y","f":26.6,"z":190000},{"p":"Im","s":"total Y","f":27.1,"z":155000},{"p":"Im","s":"total Y","f":27.7,"z":131000},{"p":"Im","s":"total Y","f":28.3,"z":145000},{"p":"Im","s":"total Y","f":28.9,"z":159000},{"p":"Im","s":"total Y","f":29.9,"z":152000},{"p":"Im","s":"total Y","f":30.9,"z":167000},{"p":"Im","s":"total Y","f":31.7,"z":152000},{"p":"Im","s":"total Y","f":32.7,"z":175000},{"p":"Im","s":"total Y","f":33.4,"z":160000},{"p":"Im","s":"total Y","f":34.1,"z":141000},{"p":"Im","s":"total Y","f":34.8,"z":125000},{"p":"Im","s":"total Y","f":35.5,"z":114000},{"p":"Im","s":"total Y","f":36.9,"z":116000},{"p":"Im","s":"total Y","f":37.7,"z":118000},{"p":"Im","s":"total Y","f":38.7,"z":141000},{"p":"Im","s":"total Y","f":39.5,"z":116000},{"p":"Im","s":"total Y","f":40.3,"z":139000},{"p":"Im","s":"total Y","f":41.3,"z":114000},{"p":"Im","s":"total Y","f":42.3,"z":144000},{"p":"Im","s":"total Y","f":43.3,"z":114000},{"p":"Im","s":"total Y","f":44.2,"z":136000},{"p":"Im","s":"total Y","f":45.0,"z":109000},{"p":"Im","s":"total Y","f":46.0,"z":136000},{"p":"Im","s":"total Y","f":46.9,"z":107000},{"p":"Im","s":"total Y","f":47.7,"z":132000},{"p":"Im","s":"total Y","f":48.7,"z":95000},{"p":"Im","s":"total Y","f":49.6,"z":125000},{"p":"Im","s":"total Y","f":50,"z":122000}
  ]},
  "spacing": 94.8,
  "resolve": {"legend": {"color": "independent"}},
  "hconcat": [
    {
      "width": 737, "height": 713,
      "title": {"text": "1e6"},
      "transform": [{"filter": "datum.p === 'Re'"}],
      "mark": {"type": "line", "clip": true, "strokeWidth": 4.2, "interpolate": "monotone"},
      "encoding": {
        "x": {"field": "f", "type": "quantitative", "scale": {"domain": [0.08, 50], "nice": false, "zero": false},
              "axis": {"title": "GHz", "values": [10, 20, 30, 40, 50]}},
        "y": {"field": "z", "type": "quantitative", "scale": {"domain": [-300000, 1000000], "nice": false, "zero": false},
              "axis": {"title": "Re[Z] Ohm/m", "values": [-200000, 0, 200000, 400000, 600000, 800000, 1000000], "labelExpr": "format(datum.value / 1000000, '.1f')"}},
        "color": {"field": "s", "type": "nominal",
          "scale": {"domain": ["bellows X","bellows Y","BPMs","RW","collimator X","collimator Y","RF cavities","RF tapers","total X","total Y"],
                    "range": ["#1f77b4","#ff7f0e","#2ca02c","#d62728","#9467bd","#8c564b","#e377c2","#7f7f7f","#bcbd22","#17becf"]},
          "legend": {"title": null, "orient": "right", "offset": 10.3, "padding": 22.5, "symbolType": "stroke", "symbolSize": 4900, "symbolStrokeWidth": 4.2,
                     "labelFontSize": 33.3, "labelFont": "DejaVu Sans", "labelColor": "black", "labelOffset": 25, "rowPadding": 0, "clipHeight": 49.2, "labelLimit": 400}}
      }
    },
    {
      "width": 737, "height": 713,
      "title": {"text": "1e6"},
      "transform": [{"filter": "datum.p === 'Im'"}],
      "mark": {"type": "line", "clip": true, "strokeWidth": 4.2, "interpolate": "monotone"},
      "encoding": {
        "x": {"field": "f", "type": "quantitative", "scale": {"domain": [0.08, 50], "nice": false, "zero": false},
              "axis": {"title": "GHz", "values": [10, 20, 30, 40, 50]}},
        "y": {"field": "z", "type": "quantitative", "scale": {"domain": [-500000, 1000000], "nice": false, "zero": false},
              "axis": {"title": "Im[Z] Ohm/m", "values": [-400000, -200000, 0, 200000, 400000, 600000, 800000, 1000000], "labelExpr": "format(datum.value / 1000000, '.1f')"}},
        "color": {"field": "s", "type": "nominal",
          "scale": {"domain": ["bellows X","bellows Y","BPMs","RW","collimator X","collimator Y","RF cavities","RF tapers","total X","total Y"],
                    "range": ["#1f77b4","#ff7f0e","#2ca02c","#d62728","#9467bd","#8c564b","#e377c2","#7f7f7f","#bcbd22","#17becf"]},
          "legend": null}
      }
    }
  ]
}
